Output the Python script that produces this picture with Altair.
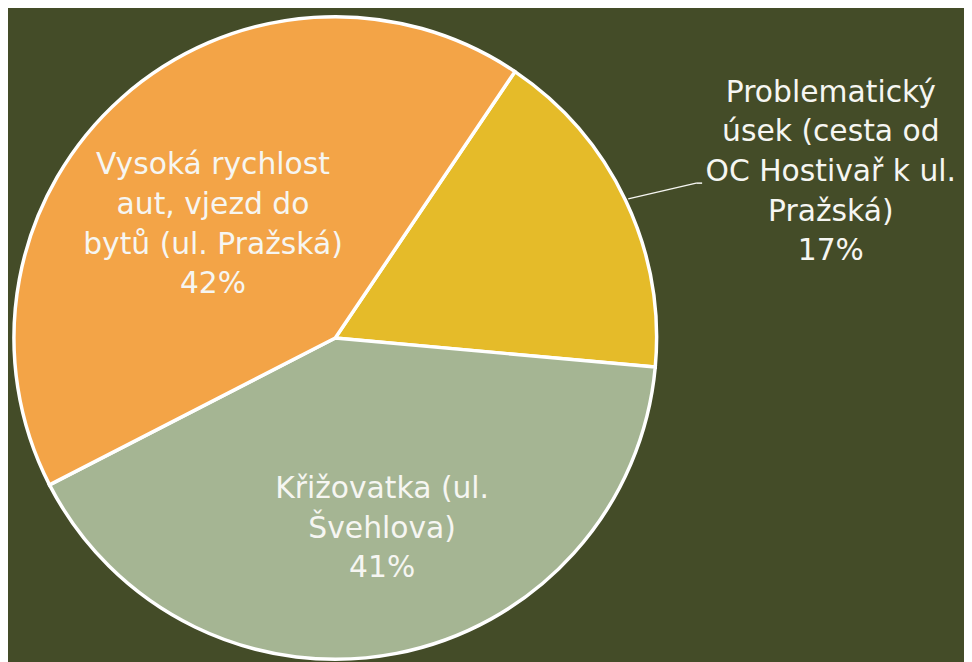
import math
import altair as alt
import pandas as pd

# ---- data ----
categories = [
    "Problematický úsek (cesta od OC Hostivař k ul. Pražská)",
    "Křižovatka (ul. Švehlova)",
    "Vysoká rychlost aut, vjezd do bytů (ul. Pražská)",
]
label_lines = [
    "Problematický\núsek (cesta od\nOC Hostivař k ul.\nPražská)",
    "Křižovatka (ul.\nŠvehlova)",
    "Vysoká rychlost\naut, vjezd do\nbytů (ul. Pražská)",
]
values = [17, 41, 42]
colors = ["#E5BB29", "#A5B593", "#F3A447"]

BG = "#444C28"
TXT = "#F6F6F2"
FONT = "DejaVu Sans"
FS = 30
LH = 40
CX, CY, R = 330, 330, 324
START = math.radians(34)

df = pd.DataFrame({
    "category": categories,
    "value": values,
    "idx": list(range(len(values))),
    "label": [f"{l}\n{v}%" for l, v in zip(label_lines, values)],
})

theta = alt.Theta("value:Q", stack=True,
                  scale=alt.Scale(range=[START, START + 2 * math.pi]))
order = alt.Order("idx:Q", sort="ascending")

base = alt.Chart(df)

arcs = base.mark_arc(outerRadius=R, stroke="white", strokeWidth=3.5).encode(
    x=alt.value(CX), y=alt.value(CY),
    theta=theta, order=order,
    color=alt.Color("category:N", scale=alt.Scale(domain=categories, range=colors), legend=None),
)


def text_layer(k, radius, toff):
    n_lines = label_lines[k].count("\n") + 2
    return base.transform_calculate(
        t=f"datum.idx == {k} ? datum.label : ''"
    ).mark_text(
        radius=radius, thetaOffset=toff, lineBreak="\n", font=FONT,
        fontSize=FS, lineHeight=LH, color=TXT, align="center", baseline="middle",
        dy=-(n_lines - 1) * LH / 2,
    ).encode(
        x=alt.value(CX), y=alt.value(CY),
        theta=theta, order=order, detail="category:N",
        text="t:N",
    )


t_yellow = text_layer(0, 527, 0.12)
t_green = text_layer(1, 198, -0.049)
t_orange = text_layer(2, 168, -0.098)

lead = base.transform_window(
    cum="sum(value)", sort=[alt.SortField("idx")]
).transform_joinaggregate(
    total="sum(value)"
).transform_calculate(
    mid=f"{START} + 2*PI*(datum.cum - datum.value/2)/datum.total"
).transform_calculate(
    x1=f"{CX} + {R + 3}*sin(datum.mid)",
    y1=f"{CY} - {R + 3}*cos(datum.mid)",
    x2=f"{CX} + 396*sin(datum.mid + 0.038)",
    y2=f"{CY} - 396*cos(datum.mid + 0.038)",
).transform_calculate(
    x3="datum.x2 + 6"
).transform_filter(alt.datum.idx == 0)

lead1 = lead.mark_rule(color=TXT, strokeWidth=1.5).encode(
    x=alt.X("x1:Q", scale=None), y=alt.Y("y1:Q", scale=None),
    x2="x2:Q", y2="y2:Q",
)
lead2 = lead.mark_rule(color=TXT, strokeWidth=1.5).encode(
    x=alt.X("x2:Q", scale=None), y=alt.Y("y2:Q", scale=None),
    x2="x3:Q", y2="y2:Q",
)

chart = alt.layer(arcs, lead1, lead2, t_yellow, t_green, t_orange).properties(
    width=964, height=654, padding=0, background=BG,
    autosize=alt.AutoSizeParams(type="none"),
).configure_view(stroke=None)

chart.save("out.html", embed_options={"renderer": "svg", "actions": False})
